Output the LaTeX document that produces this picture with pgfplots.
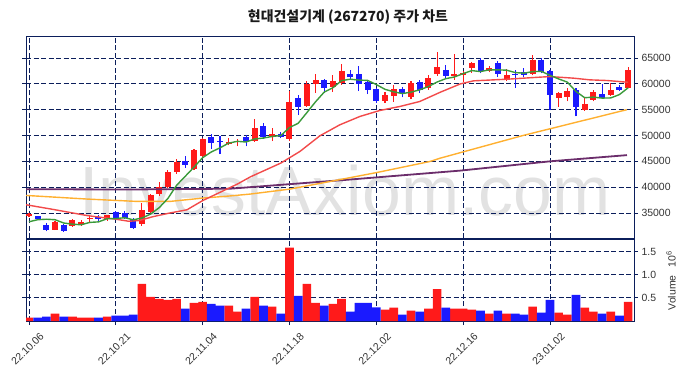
\documentclass[border=0pt]{standalone}
\usepackage{pgfplots}
\pgfplotsset{compat=1.18}
\usepackage{pgfplotstable}
\usepackage{fontspec}
\setmainfont{Liberation Sans}
\newfontfamily\cjk{Noto Sans CJK KR}
\definecolor{navy}{HTML}{0B1E5B}
\definecolor{candR}{HTML}{FF1A1A}
\definecolor{candB}{HTML}{1A1AFF}
\definecolor{maG}{HTML}{3A9A3A}
\definecolor{maR}{HTML}{F24A4A}
\definecolor{maO}{HTML}{FFB030}
\definecolor{maP}{HTML}{6B2D6B}
\definecolor{wm}{HTML}{E2E2E2}

\pgfplotstableread{
i o c h l v
0 34350 34800 35000 34300 0.074
3 31800 33350 33400 31700 0.16
5 32550 33700 33900 32300 0.096
6 32900 33250 33550 32550 0.074
7 33850 34100 34470 33170 0.074
9 33900 34550 34700 33500 0.096
13 32800 35500 36900 32500 0.80
14 35100 38400 38700 35000 0.52
15 38700 40100 41000 38300 0.48
16 40100 43000 43300 39900 0.457
17 42900 44850 45400 42600 0.48
19 43500 47200 47400 43300 0.394
20 45950 49300 49500 45700 0.415
23 48350 48800 49600 48100 0.33
24 48800 48950 49400 47900 0.202
26 48900 51500 53150 48800 0.52
28 49800 50300 51500 48900 0.309
30 49400 56400 58650 48900 1.585
32 55800 60000 60600 55600 0.80
33 59950 60800 61900 58300 0.394
35 59300 60600 61700 58500 0.372
36 60150 62500 63800 59800 0.48
41 56600 57900 58400 56300 0.245
42 57700 59000 59700 56500 0.287
44 57450 60250 60600 57000 0.223
46 59200 61100 61800 58900 0.266
47 61900 63350 66100 61600 0.69
49 61650 61900 65800 60800 0.266
50 61650 62100 62400 60400 0.266
51 63050 64000 64300 62100 0.245
53 62500 63150 63500 62200 0.16
55 60780 61750 62800 60500 0.16
58 61900 64650 65600 61700 0.309
61 57250 58200 58500 55600 0.181
62 57450 58700 59100 56600 0.138
64 54850 56150 57400 54800 0.287
65 56900 58500 58900 56600 0.202
67 57900 58850 60100 57700 0.202
69 59200 62700 63200 59100 0.415
}\upT

\pgfplotstableread{
i o c h l v
1 34450 33850 34500 33700 0.074
2 32700 31800 33050 31450 0.096
4 32700 31500 32900 31400 0.096
8 34150 33850 34550 33200 0.074
10 35200 33850 35400 33600 0.117
11 34950 34100 35300 33900 0.117
12 33800 32100 34000 31900 0.138
18 45100 44200 46100 43800 0.266
21 49800 48550 50300 47400 0.372
22 48950 48800 49900 46400 0.33
25 49800 48650 50100 47900 0.266
27 51900 49700 52500 49400 0.33
29 50300 49800 50700 49500 0.16
31 57200 55600 57900 54000 0.543
34 60800 59200 61000 58300 0.33
37 61900 61400 62700 60800 0.202
38 61900 59950 63500 58600 0.394
39 60450 58850 60600 58000 0.394
40 58950 56600 59200 56300 0.294
43 59000 58200 59400 57400 0.138
45 60450 58850 60700 58200 0.202
48 62700 61450 63600 61000 0.287
52 64650 62400 65000 62000 0.223
54 64000 61900 64500 61400 0.223
56 61950 61700 62700 59200 0.16
57 62300 61800 63000 61400 0.138
59 64650 62200 65000 62000 0.181
60 62500 57900 62700 55000 0.457
63 58850 55600 59100 53700 0.564
66 58000 57250 59900 57100 0.16
68 59450 58850 59800 58700 0.117
}\downT

\pgfplotstableread{
x y
0 33300
1 33700
2 33800
3 33700
4 33060
5 32840
6 32720
7 33180
8 33280
9 33890
10 33920
11 34090
12 33690
13 34020
14 34790
15 36040
16 37820
17 40370
18 42110
19 43870
20 45710
21 46820
22 47610
23 48530
24 48870
25 48740
26 49330
27 49510
28 49810
29 49990
30 51540
31 52360
32 54420
33 56520
34 58400
35 59240
36 60620
37 60900
38 60730
39 60660
40 59860
41 58940
42 58460
43 58110
44 58390
45 58840
46 59480
47 60350
48 61000
49 61330
50 61980
51 62560
52 62370
53 62710
54 62710
55 62640
56 62180
57 62060
58 62360
59 62420
60 61650
61 60950
62 60330
63 58520
64 57310
65 57430
66 57240
67 57270
68 57920
69 59230
}\maFive

\pgfplotstableread{
x y
-0.35 36600
2.76 35700
6.7 34500
10.0 33800
11.5 33400
12.7 33550
14.3 34300
16.2 34990
18.2 35630
20.0 37400
22.0 39000
24.0 40600
25.5 42000
29.0 44660
31.2 46910
33.5 49940
35.8 52070
38.1 53680
40.4 54840
42.7 55610
45.0 56580
47.4 58400
49.7 60000
51.2 60580
55.1 60900
58.9 61300
60.0 61400
62.7 61100
64.6 60770
66.6 60640
69.0 60300
}\maTwenty

\pgfplotstableread{
x y
-0.35 38400
6.68 37700
12.44 37240
16.24 37240
20.04 37890
23.15 38300
25.45 38660
30.06 39630
34.67 41100
40.08 42840
46.18 44970
47.33 45600
56.89 50000
68.87 55000
}\maSixty

\pgfplotstableread{
x y
-0.35 39600
11.63 39550
23.15 39700
36.39 41400
49.64 43200
60.0 45000
68.87 46200
}\maOneTwenty

\pgfplotsset{
  common/.style={
    scale only axis, width=608bp,
    xmin=-0.345, xmax=69.68,
    axis line style={navy, line width=1bp},
    tick align=outside, major tick length=4bp,
    yticklabel pos=right,
    grid=major,
    grid style={navy, dash pattern=on 5bp off 2.5bp, line width=0.9bp},
    ytick style={navy, line width=0.8bp},
    tick label style={font=\fontsize{10.5}{12}\selectfont, text=black!80},
    /pgf/number format/assume math mode=true,
    scaled y ticks=false,
  },
  candle/.style={draw=none, mark=none, forget plot, mark options={draw=none, fill=none}},
}

\begin{document}
\begin{tikzpicture}[x=1bp,y=1bp]
\useasboundingbox (0,0) rectangle (690,378);
\node[font=\fontsize{70}{80}\selectfont, text=wm, anchor=base] at (345,163) {InvestAxiom.com};
\node[font=\cjk\bfseries\fontsize{14}{16}\selectfont, text=black!90] at (348,361) {현대건설기계 (267270) 주가 차트};

\begin{axis}[common,
  at={(26bp,140bp)}, anchor=south west, height=201bp,
  ymin=30161, ymax=69065,
  xtick={0,10,20,30,40,50,60}, xticklabels={},
  xtick style={draw=none},
  ytick={35000,40000,45000,50000,55000,60000,65000},
  /pgf/number format/1000 sep={},
]
% wicks
\addplot[candle, error bars/.cd, y dir=plus, y explicit, error mark=none,
  error bar style={draw=candR, line width=1.1bp, solid}]
  table[x=i, y=l, y error expr=\thisrow{h}-\thisrow{l}] {\upT};
\addplot[candle, error bars/.cd, y dir=plus, y explicit, error mark=none,
  error bar style={draw=candB, line width=1.1bp, solid}]
  table[x=i, y=l, y error expr=\thisrow{h}-\thisrow{l}] {\downT};
% bodies
\addplot[candle, error bars/.cd, y dir=both, y explicit, error mark=none,
  error bar style={draw=candR, line width=6bp, solid}]
  table[x=i, y expr=(\thisrow{o}+\thisrow{c})/2, y error expr={max(abs(\thisrow{c}-\thisrow{o})/2,110)}] {\upT};
\addplot[candle, error bars/.cd, y dir=both, y explicit, error mark=none,
  error bar style={draw=candB, line width=6bp, solid}]
  table[x=i, y expr=(\thisrow{o}+\thisrow{c})/2, y error expr={max(abs(\thisrow{c}-\thisrow{o})/2,110)}] {\downT};
% moving averages
\addplot[maP, line width=1.8bp, no marks] table[x=x,y=y] {\maOneTwenty};
\addplot[maO, line width=1.4bp, no marks] table[x=x,y=y] {\maSixty};
\addplot[maR, line width=1.4bp, no marks] table[x=x,y=y] {\maTwenty};
\addplot[maG, line width=1.4bp, no marks] table[x=x,y=y] {\maFive};
\end{axis}

\begin{axis}[common,
  at={(26bp,57bp)}, anchor=south west, height=82bp,
  ymin=0, ymax=1.77,
  xtick={0,10,20,30,40,50,60},
  xticklabels={22.10.06,22.10.21,22.11.04,22.11.18,22.12.02,22.12.16,23.01.02},
  xtick style={navy, line width=0.8bp},
  xticklabel style={yshift=-24bp, xshift=-1.5bp, rotate=45, anchor=center},
  ytick={0.5,1.0,1.5},
  /pgf/number format/fixed, /pgf/number format/fixed zerofill, /pgf/number format/precision=1,
]
\addplot[ybar, bar shift=0pt, bar width=1, fill=candR, draw=none] table[x=i, y=v] {\upT};
\addplot[ybar, bar shift=0pt, bar width=1, fill=candB, draw=none] table[x=i, y=v] {\downT};
\end{axis}

\node[rotate=90, font=\fontsize{10.5}{12}\selectfont, text=black!80] at (671,97) {Volume\hspace{8bp}10\raisebox{4bp}{\fontsize{7.5}{8}\selectfont 6}};
\end{tikzpicture}
\end{document}
